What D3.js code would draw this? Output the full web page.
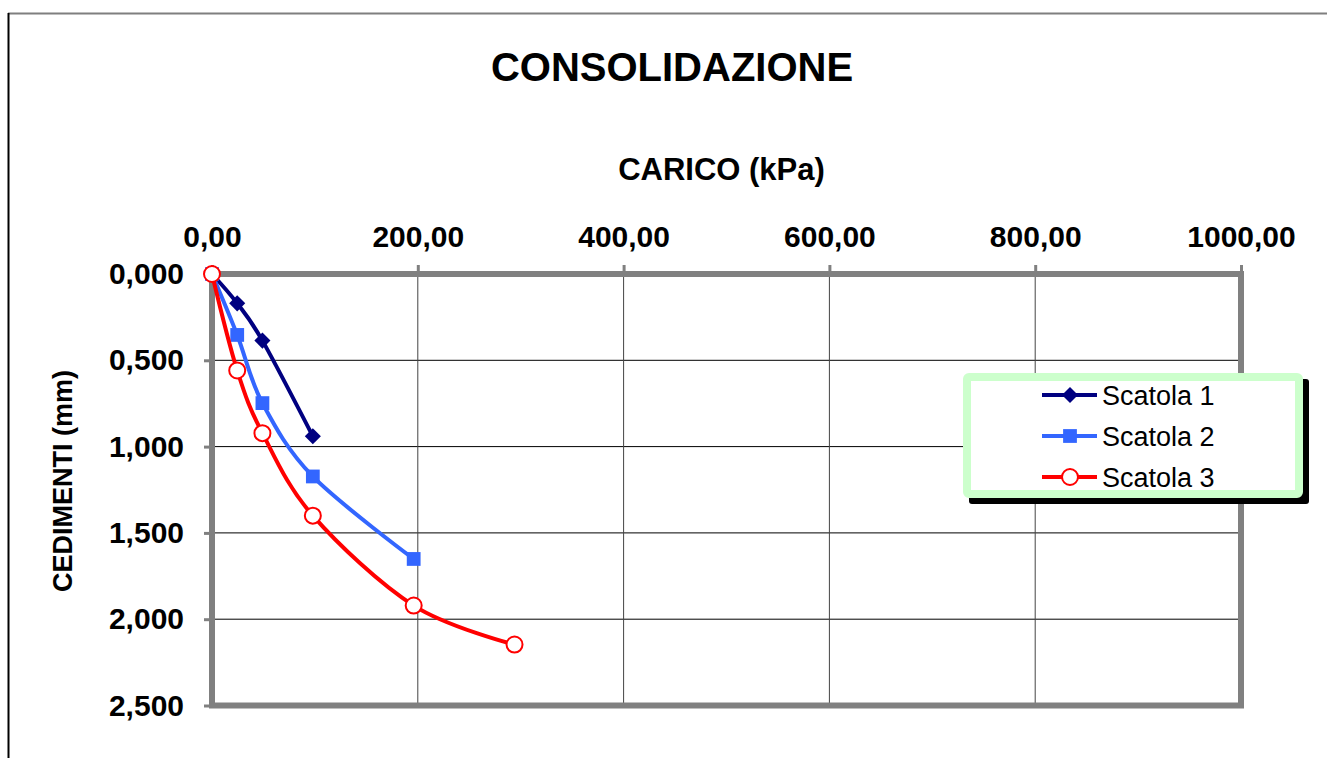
<!DOCTYPE html>
<html>
<head>
<meta charset="utf-8">
<script src="https://cdn.jsdelivr.net/npm/d3@7"></script>
<style>
  body { margin: 0; background: #fff; }
  text { font-family: "Liberation Sans", Arial, sans-serif; }
</style>
</head>
<body>
<svg width="1327" height="758"></svg>
<script>
const titleText = 'CONSOLIDAZIONE';
const xAxisLabelText = 'CARICO (kPa)';
const yAxisLabelText = 'CEDIMENTI (mm)';

const seriesNames = ['Scatola 1', 'Scatola 2', 'Scatola 3'];
const carico1 = [0, 24.5, 49, 98];
const cedimenti1 = [0, 0.170, 0.386, 0.940];
const carico2 = [0, 24.5, 49, 98, 196];
const cedimenti2 = [0, 0.353, 0.748, 1.173, 1.651];
const carico3 = [0, 24.5, 49, 98, 196, 294];
const cedimenti3 = [0, 0.559, 0.922, 1.400, 1.921, 2.147];
const xTicks = [0, 200, 400, 600, 800, 1000];
const yTicks = [0, 0.5, 1, 1.5, 2, 2.5];

const svg = d3.select('svg');
const width = +svg.attr('width');
const height = +svg.attr('height');

const fontFamily = '"Liberation Sans", Arial, sans-serif';
const locale = d3.formatLocale({ decimal: ',', thousands: '', grouping: [3], currency: ['', ''] });

const margin = { top: 274, right: 86, bottom: 52.5, left: 212 };
const innerWidth = width - margin.left - margin.right;
const innerHeight = height - margin.top - margin.bottom;

const series = [
  { name: seriesNames[0], x: carico1, y: cedimenti1, color: '#000080', marker: 'diamond' },
  { name: seriesNames[1], x: carico2, y: cedimenti2, color: '#3366ff', marker: 'square' },
  { name: seriesNames[2], x: carico3, y: cedimenti3, color: '#ff0000', marker: 'circle' }
];

// outer chart frame
svg.append('line').attr('x1', 8).attr('y1', 13.5).attr('x2', width).attr('y2', 13.5)
  .attr('stroke', '#7f7f7f').attr('stroke-width', 2);
svg.append('line').attr('x1', 8.5).attr('y1', 13).attr('x2', 8.5).attr('y2', height)
  .attr('stroke', '#000').attr('stroke-width', 2);

svg.append('text')
  .attr('x', 672).attr('y', 81)
  .attr('text-anchor', 'middle')
  .attr('font-size', 40).attr('font-weight', 'bold')
  .text(titleText);

const xScale = d3.scaleLinear().domain([0, 1000]).range([0, innerWidth]);
const yScale = d3.scaleLinear().domain([0, 2.5]).range([0, innerHeight]);

const g = svg.append('g')
  .attr('transform', `translate(${margin.left},${margin.top})`);

// gridlines
g.append('g').selectAll('line').data(yTicks.slice(1, -1)).join('line')
  .attr('x1', 0).attr('x2', innerWidth)
  .attr('y1', d => yScale(d)).attr('y2', d => yScale(d))
  .attr('stroke', '#000').attr('stroke-width', 1);
g.append('g').selectAll('line').data(xTicks.slice(1, -1)).join('line')
  .attr('y1', 0).attr('y2', innerHeight)
  .attr('x1', d => xScale(d)).attr('x2', d => xScale(d))
  .attr('stroke', '#444').attr('stroke-width', 1);

// axes
const xAxis = d3.axisTop(xScale)
  .tickValues(xTicks)
  .tickSize(9)
  .tickPadding(18)
  .tickFormat(locale.format('.2f'));
const xAxisG = g.append('g').call(xAxis)
  .attr('font-size', 30).attr('font-weight', 'bold').attr('font-family', fontFamily);
xAxisG.select('.domain').remove();
xAxisG.selectAll('.tick line').attr('stroke', '#808080').attr('stroke-width', 3);
xAxisG.selectAll('.tick text').attr('fill', '#000');

const yAxis = d3.axisLeft(yScale)
  .tickValues(yTicks)
  .tickSize(8)
  .tickPadding(20)
  .tickFormat(locale.format('.3f'));
const yAxisG = g.append('g').call(yAxis)
  .attr('font-size', 30).attr('font-weight', 'bold').attr('font-family', fontFamily);
yAxisG.select('.domain').remove();
yAxisG.selectAll('.tick line').attr('stroke', '#808080').attr('stroke-width', 3);
yAxisG.selectAll('.tick text').attr('fill', '#000');

// plot area border
g.append('rect')
  .attr('width', innerWidth).attr('height', innerHeight)
  .attr('fill', 'none').attr('stroke', '#808080').attr('stroke-width', 6);

g.append('text')
  .attr('x', innerWidth / 2 - 5).attr('y', -94)
  .attr('text-anchor', 'middle')
  .attr('font-size', 31).attr('font-weight', 'bold')
  .text(xAxisLabelText);

svg.append('text')
  .attr('transform', 'translate(72,481) rotate(-90)')
  .attr('text-anchor', 'middle')
  .attr('font-size', 27).attr('font-weight', 'bold')
  .text(yAxisLabelText);

// series
const lineGen = d3.line()
  .x(d => xScale(d[0]))
  .y(d => yScale(d[1]))
  .curve(d3.curveCatmullRom.alpha(0));

const drawMarker = (sel, s) => {
  if (s.marker === 'circle') {
    sel.append('circle').attr('r', 8)
      .attr('fill', '#fff').attr('stroke', s.color).attr('stroke-width', 2);
  } else {
    sel.append('path')
      .attr('d', d3.symbol(s.marker === 'diamond' ? d3.symbolDiamond2 : d3.symbolSquare,
        s.marker === 'diamond' ? 165 : 190)())
      .attr('fill', s.color);
  }
};

series.forEach(s => {
  const pts = s.x.map((x, i) => [x, s.y[i]]);
  const sg = g.append('g');
  sg.append('path')
    .attr('d', lineGen(pts))
    .attr('fill', 'none')
    .attr('stroke', s.color)
    .attr('stroke-width', 4);
  sg.selectAll('g.pt').data(pts).join('g')
    .attr('class', 'pt')
    .attr('transform', d => `translate(${xScale(d[0])},${yScale(d[1])})`)
    .each(function () { drawMarker(d3.select(this), s); });
});

// legend
const legend = svg.append('g').attr('transform', 'translate(967,377)');
legend.append('rect')
  .attr('x', 2).attr('y', 2).attr('width', 340).attr('height', 125)
  .attr('fill', '#000').attr('rx', 3);
legend.append('rect')
  .attr('width', 332).attr('height', 117)
  .attr('fill', '#fff').attr('stroke', '#ccffcc').attr('stroke-width', 8).attr('rx', 2);

series.forEach((s, i) => {
  const row = legend.append('g').attr('transform', `translate(0,${18 + i * 41})`);
  row.append('line')
    .attr('x1', 75).attr('x2', 130)
    .attr('stroke', s.color).attr('stroke-width', 4);
  drawMarker(row.append('g').attr('transform', 'translate(103,0)'), s);
  row.append('text')
    .attr('x', 135).attr('y', 9.5)
    .attr('font-size', 27)
    .text(s.name);
});
</script>
</body>
</html>
